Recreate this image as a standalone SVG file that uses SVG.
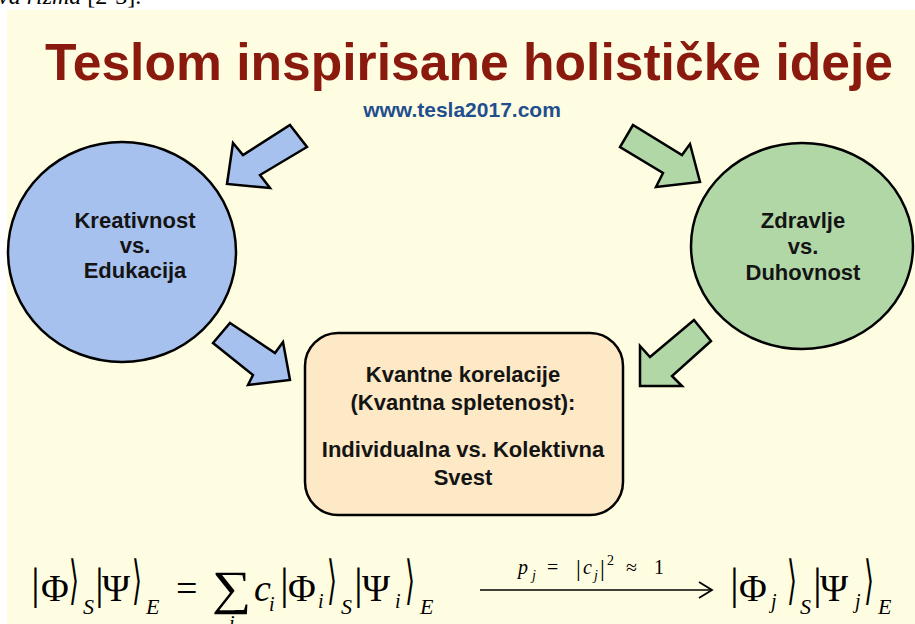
<svg xmlns="http://www.w3.org/2000/svg" width="915" height="624" viewBox="0 0 915 624">
<style>
.bg{fill:#FFFDE1}
.lbl{font-family:"Liberation Sans",Arial,sans-serif;font-weight:bold;font-size:22px;fill:#141414;text-anchor:middle}
.blue{fill:#A7C1EE;stroke:#000;stroke-width:2.5;stroke-linejoin:miter}
.green{fill:#B1D7A6;stroke:#000;stroke-width:2.5;stroke-linejoin:miter}
.m{font-family:"Liberation Serif","Times New Roman",serif;fill:#000}
.big{font-size:38px}
.bar{font-size:44px}
.sub{font-size:22px;font-style:italic}
.si{font-size:20px;font-style:italic}
.ang{font-family:"DejaVu Sans",sans-serif;font-size:30px;fill:#000}
.sm{font-size:20px}
.smi{font-size:20px;font-style:italic}
.tiny{font-size:14px;font-style:italic}
</style>
<rect x="0" y="0" width="915" height="624" fill="#FFFFFF"/>
<rect class="bg" x="7" y="10" width="908" height="614"/>
<text x="-2" y="4" font-family="'Liberation Serif','Times New Roman',serif" font-size="24" fill="#000"><tspan font-style="italic">va rizma</tspan> [2-3].</text>

<g id="title">
<text x="469" y="80" text-anchor="middle" font-family="'Liberation Sans',Arial,sans-serif" font-weight="bold" font-size="52" fill="#8B1A0E" textLength="848" lengthAdjust="spacingAndGlyphs">Teslom inspirisane holističke ideje</text>
<text x="462" y="117" text-anchor="middle" font-family="'Liberation Sans',Arial,sans-serif" font-weight="bold" font-size="21" fill="#1F4F8F">www.tesla2017.com</text>
</g>

<g id="node-kreativnost">
<ellipse class="blue" cx="122" cy="252" rx="114" ry="110"/>
<text class="lbl" x="135" y="228">Kreativnost</text>
<text class="lbl" x="135" y="253">vs.</text>
<text class="lbl" x="135" y="278">Edukacija</text>
</g>

<g id="node-zdravlje">
<ellipse class="green" cx="802" cy="246" rx="111" ry="103"/>
<text class="lbl" x="803" y="228">Zdravlje</text>
<text class="lbl" x="803" y="254">vs.</text>
<text class="lbl" x="803" y="280">Duhovnost</text>
</g>

<g id="node-kvantne">
<rect x="305" y="333" width="318" height="182" rx="33" ry="33" fill="#FDE9C6" stroke="#000" stroke-width="2.5"/>
<text class="lbl" x="463" y="382">Kvantne korelacije</text>
<text class="lbl" x="463" y="410">(Kvantna spletenost):</text>
<text class="lbl" x="463" y="457">Individualna vs. Kolektivna</text>
<text class="lbl" x="463" y="485">Svest</text>
</g>

<g id="connectors">
<polygon class="blue" points="290,125 307,147 260,175 270,188 227,184 233,143 243,155"/>
<polygon class="green" points="633,125 620,147 663,173 656,187 700,182 690,144 682,155"/>
<polygon class="blue" points="230,323 275,353 283,342 290,380 248,385 253,375 213,343"/>
<polygon class="green" points="694,320 650,357 640,346 640,386 682,386 672,376 711,341"/>
</g>

<g id="equation">
<text class="m bar" x="31" y="599">|</text>
<text class="m big" x="41" y="601">Φ</text>
<text class="ang" x="69" y="598" transform="translate(69 598) scale(0.85 1.75) translate(-69 -598)">⟩</text>
<text class="m sub" x="83" y="614">S</text>
<text class="m bar" x="95" y="599">|</text>
<text class="m big" x="102" y="601">Ψ</text>
<text class="ang" x="132" y="598" transform="translate(132 598) scale(0.85 1.75) translate(-132 -598)">⟩</text>
<text class="m sub" x="146" y="614">E</text>
<text class="m big" x="176" y="601">=</text>
<text class="m" x="212" y="604" font-size="48" transform="translate(212 604) scale(1.15 1) translate(-212 -604)">∑</text>
<text class="m si" x="229" y="630">i</text>
<text class="m big" x="254" y="601" font-style="italic">c</text>
<text class="m si" x="269" y="611">i</text>
<text class="m bar" x="280" y="599">|</text>
<text class="m big" x="288" y="601">Φ</text>
<text class="m si" x="318" y="608">i</text>
<text class="ang" x="327" y="598" transform="translate(327 598) scale(0.85 1.75) translate(-327 -598)">⟩</text>
<text class="m sub" x="341" y="614">S</text>
<text class="m bar" x="354" y="599">|</text>
<text class="m big" x="362" y="601">Ψ</text>
<text class="m si" x="395" y="608">i</text>
<text class="ang" x="405" y="598" transform="translate(405 598) scale(0.85 1.75) translate(-405 -598)">⟩</text>
<text class="m sub" x="420" y="614">E</text>

<line x1="480" y1="590" x2="711" y2="590" stroke="#000" stroke-width="1.6"/>
<polyline points="699,582 712,590 699,598" fill="none" stroke="#000" stroke-width="1.8"/>
<text class="m smi" x="518" y="574">p</text>
<text class="m tiny" x="532" y="580">j</text>
<text class="m sm" x="547" y="574">=</text>
<text class="m" x="576" y="576" font-size="24">|</text>
<text class="m smi" x="583" y="574">c</text>
<text class="m tiny" x="594" y="580">j</text>
<text class="m" x="600" y="576" font-size="24">|</text>
<text class="m" x="607" y="565" font-size="14">2</text>
<text class="m sm" x="626" y="574">≈</text>
<text class="m sm" x="654" y="574">1</text>

<text class="m bar" x="730" y="599">|</text>
<text class="m big" x="739" y="601">Φ</text>
<text class="m si" x="771" y="608">j</text>
<text class="ang" x="787" y="598" transform="translate(787 598) scale(0.85 1.75) translate(-787 -598)">⟩</text>
<text class="m sub" x="800" y="614">S</text>
<text class="m bar" x="813" y="599">|</text>
<text class="m big" x="820" y="601">Ψ</text>
<text class="m si" x="855" y="608">j</text>
<text class="ang" x="864" y="598" transform="translate(864 598) scale(0.85 1.75) translate(-864 -598)">⟩</text>
<text class="m sub" x="878" y="614">E</text>
</g>
</svg>
